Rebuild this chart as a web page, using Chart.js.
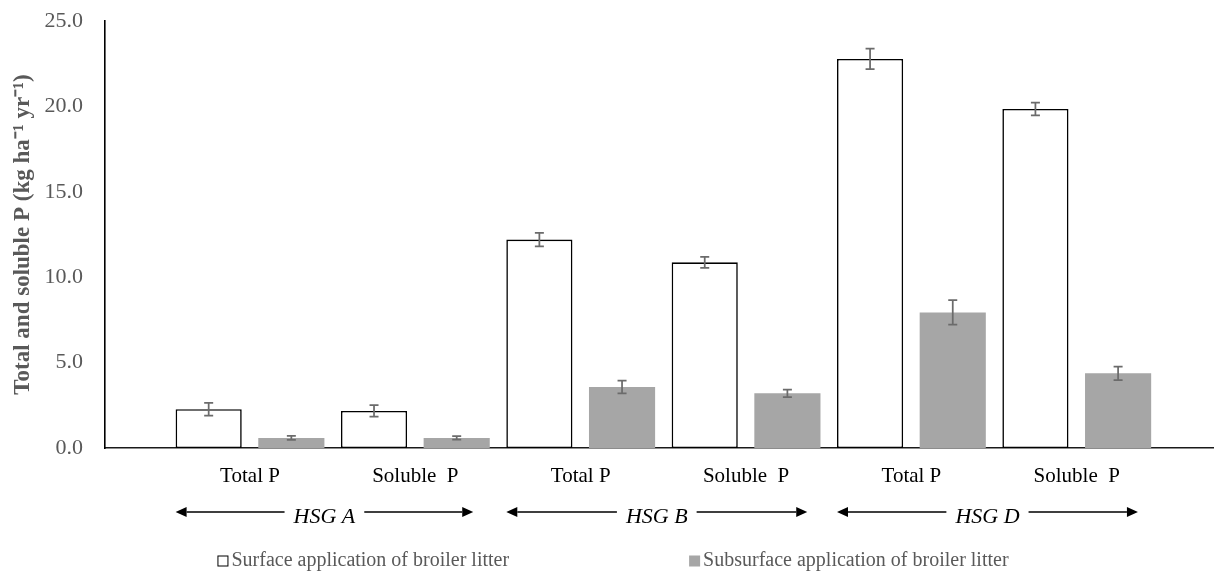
<!DOCTYPE html>
<html>
<head>
<meta charset="utf-8">
<script src="https://cdn.jsdelivr.net/npm/chart.js@4/dist/chart.umd.min.js"></script>
<style>
  html, body { margin: 0; padding: 0; background: #ffffff; }
  #wrap { width: 1214px; height: 576px; }
</style>
</head>
<body>
<div id="wrap"><canvas id="c" width="1214" height="576"></canvas></div>
<script>
// Annual total and soluble P losses by hydrologic soil group
const categories = ['Total P', 'Soluble  P', 'Total P', 'Soluble  P', 'Total P', 'Soluble  P'];
const soilGroups = ['HSG A', 'HSG B', 'HSG D'];
const seriesNames = ['Surface application of broiler litter', 'Subsurface application of broiler litter'];

const surfaceP = [2.27, 2.17, 12.2, 10.87, 22.78, 19.85];
const surfaceErr = [0.37, 0.34, 0.40, 0.32, 0.60, 0.37];
const subsurfaceP = [0.59, 0.59, 3.57, 3.20, 7.94, 4.37];
const subsurfaceErr = [0.12, 0.10, 0.37, 0.22, 0.72, 0.40];

const yTicks = [0, 5, 10, 15, 20, 25];

// Extents of the soil-group arrows, in x-axis (category index) units
const groupArrowExtents = [[-0.45, 1.35], [1.55, 3.37], [3.55, 5.37]];

const SERIF = "'Liberation Serif', 'Times New Roman', serif";
Chart.defaults.font.family = SERIF;

const errorLists = [surfaceErr, subsurfaceErr];

const errorBarPlugin = {
  id: 'errorBars',
  afterDatasetsDraw(chart) {
    const ctx = chart.ctx;
    const y = chart.scales.y;
    ctx.save();
    ctx.strokeStyle = '#6b6b6b';
    ctx.lineWidth = 1.75;
    chart.data.datasets.forEach((ds, di) => {
      const meta = chart.getDatasetMeta(di);
      meta.data.forEach((bar, i) => {
        const v = ds.data[i].y;
        const e = errorLists[di][i];
        const top = y.getPixelForValue(v + e);
        const bot = y.getPixelForValue(v - e);
        const cap = 4.5;
        ctx.beginPath();
        ctx.moveTo(bar.x, top); ctx.lineTo(bar.x, bot);
        ctx.moveTo(bar.x - cap, top); ctx.lineTo(bar.x + cap, top);
        ctx.moveTo(bar.x - cap, bot); ctx.lineTo(bar.x + cap, bot);
        ctx.stroke();
      });
    });
    ctx.restore();
  }
};

const groupArrowPlugin = {
  id: 'groupArrows',
  afterDraw(chart) {
    const ctx = chart.ctx;
    const xs = chart.scales.x;
    const yLine = 512;
    const head = 11, half = 5;
    ctx.save();
    ctx.font = "italic 22px " + SERIF;
    ctx.textAlign = 'center';
    ctx.textBaseline = 'middle';
    ctx.fillStyle = '#000';
    ctx.strokeStyle = '#000';
    ctx.lineWidth = 1.5;
    soilGroups.forEach((name, g) => {
      const x1 = xs.getPixelForValue(groupArrowExtents[g][0]);
      const x2 = xs.getPixelForValue(groupArrowExtents[g][1]);
      const cx = (x1 + x2) / 2;
      const w = ctx.measureText(name).width;
      ctx.beginPath();
      ctx.moveTo(x1 + head, yLine); ctx.lineTo(cx - w / 2 - 9, yLine);
      ctx.moveTo(cx + w / 2 + 9, yLine); ctx.lineTo(x2 - head, yLine);
      ctx.stroke();
      ctx.beginPath();
      ctx.moveTo(x1, yLine); ctx.lineTo(x1 + head, yLine - half); ctx.lineTo(x1 + head, yLine + half); ctx.closePath();
      ctx.moveTo(x2, yLine); ctx.lineTo(x2 - head, yLine - half); ctx.lineTo(x2 - head, yLine + half); ctx.closePath();
      ctx.fill();
      ctx.fillText(name, cx, yLine + 5);
    });
    ctx.restore();
  }
};

const legendPlugin = {
  id: 'bottomLegend',
  afterDraw(chart) {
    const ctx = chart.ctx;
    const box = 11, gapText = 3, itemGap = 180, yMid = 561;
    ctx.save();
    ctx.font = "20px " + SERIF;
    ctx.textBaseline = 'middle';
    ctx.textAlign = 'left';
    const widths = chart.data.datasets.map(ds => box + gapText + ctx.measureText(ds.label).width);
    const total = widths.reduce((a, b) => a + b, 0) + itemGap * (widths.length - 1);
    let x = (chart.width - total) / 2 + 6;
    chart.data.datasets.forEach((ds, i) => {
      ctx.fillStyle = ds.backgroundColor;
      ctx.fillRect(x, yMid - box / 2, box, box);
      if (ds.borderWidth) {
        ctx.strokeStyle = '#000';
        ctx.lineWidth = 1;
        ctx.strokeRect(x + 0.5, yMid - box / 2 + 0.5, box - 1, box - 1);
      }
      ctx.fillStyle = '#595959';
      ctx.fillText(ds.label, x + box + gapText, yMid);
      x += widths[i] + itemGap;
    });
    ctx.restore();
  }
};

new Chart(document.getElementById('c'), {
  type: 'bar',
  data: {
    datasets: [
      {
        label: seriesNames[0],
        data: surfaceP.map((v, i) => ({ x: i, y: v })),
        backgroundColor: '#ffffff',
        borderColor: '#000000',
        borderWidth: 1.6,
        borderSkipped: false
      },
      {
        label: seriesNames[1],
        data: subsurfaceP.map((v, i) => ({ x: i, y: v })),
        backgroundColor: '#a6a6a6',
        borderWidth: 0
      }
    ]
  },
  options: {
    responsive: false,
    animation: false,
    events: [],
    categoryPercentage: 1.0,
    barPercentage: 0.8,
    layout: { padding: { top: 21, right: 0, bottom: 0, left: 0 } },
    plugins: {
      legend: { display: false },
      tooltip: { enabled: false }
    },
    scales: {
      x: {
        type: 'linear',
        bounds: 'data',
        offset: false,
        min: -0.877,
        max: 5.83,
        afterBuildTicks(scale) {
          scale.ticks = categories.map((_, i) => ({ value: i }));
        },
        afterFit(scale) { scale.height = 128; },
        grid: { display: false, offset: false, drawTicks: false, tickLength: 0 },
        border: { display: true, color: '#1a1a1a', width: 1.6 },
        ticks: {
          autoSkip: false,
          maxRotation: 0,
          padding: 16,
          color: '#000000',
          font: { family: SERIF, size: 21 },
          callback: (v) => categories[v]
        }
      },
      y: {
        min: 0,
        max: 25,
        afterBuildTicks(scale) {
          scale.ticks = yTicks.map(v => ({ value: v }));
        },
        afterFit(scale) { scale.width = 105; },
        // tick marks are hidden with the grid; their length only spaces the labels from the axis
        grid: { display: false, drawTicks: true, tickLength: 22 },
        border: { display: true, color: '#000000', width: 1.6 },
        ticks: {
          padding: 0,
          color: '#595959',
          font: { family: SERIF, size: 22 },
          callback: (v) => Number(v).toFixed(1)
        },
        title: {
          display: true,
          text: 'Total and soluble P (kg ha\u207B\u00B9 yr\u207B\u00B9)',
          color: '#595959',
          font: { family: SERIF, size: 23, weight: 'bold' },
          padding: { top: 9, bottom: 0 }
        }
      }
    }
  },
  plugins: [errorBarPlugin, groupArrowPlugin, legendPlugin]
});
</script>
</body>
</html>
